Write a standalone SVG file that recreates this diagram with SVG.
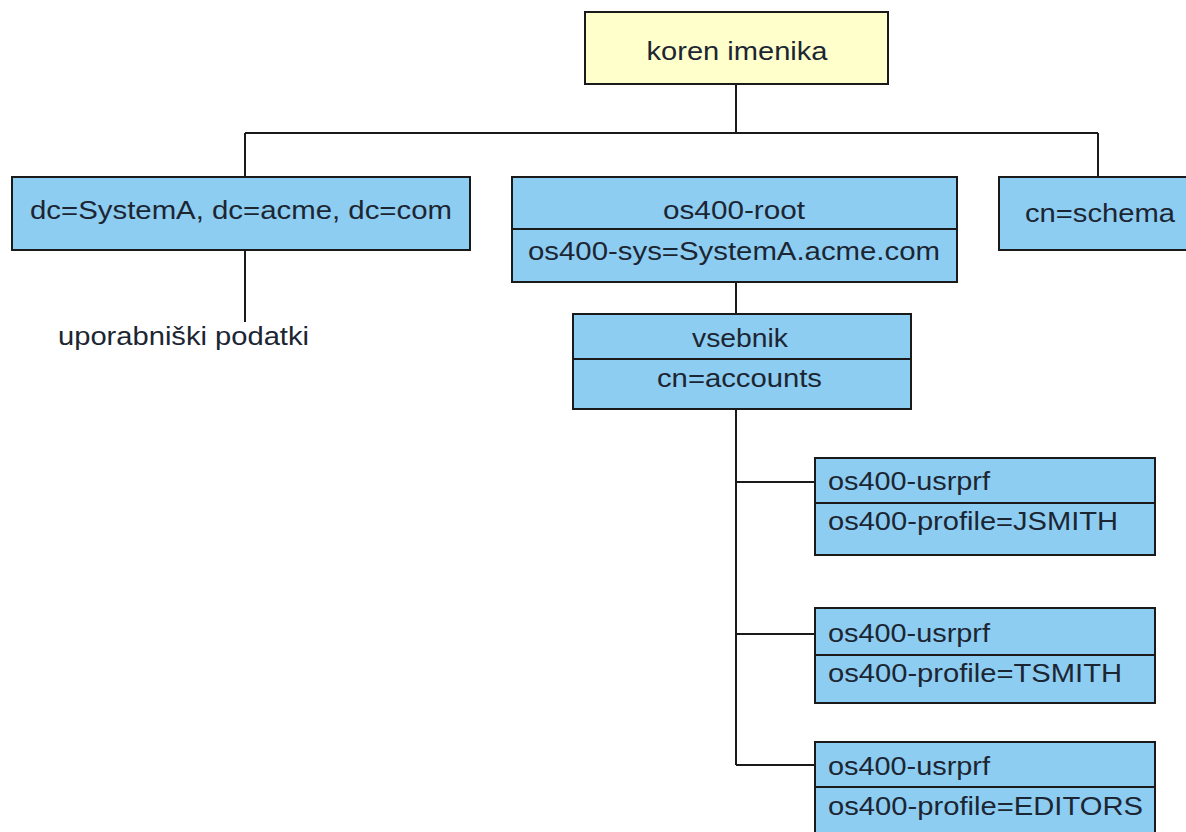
<svg xmlns="http://www.w3.org/2000/svg" width="1186" height="832" viewBox="0 0 1186 832">
<style>
.box{fill:#8ecdf2;stroke:#1a1a1a;stroke-width:2}
.root{fill:#ffffcc;stroke:#1a1a1a;stroke-width:2}
.div{stroke:#1a1a1a;stroke-width:2}
.t{font-family:"Liberation Sans",Arial,sans-serif;font-size:25px;fill:#1c2633}
.c{text-anchor:middle}
.conn{stroke:#1a1a1a;stroke-width:2;fill:none}
</style>
<rect width="1186" height="832" fill="#ffffff"/>
<g id="connectors">
<path class="conn" d="M736 84V133M245 133H1098M245 133V177M1098 133V177M245 250V322M736 282V314M736 409V765M736 482H815M736 634H815M736 765H815"/>
</g>
<g id="node-root">
<rect class="root" x="585" y="12" width="303" height="72"/>
<text class="t c" x="737" y="60" textLength="181" lengthAdjust="spacingAndGlyphs">koren imenika</text>
</g>
<g id="node-dc">
<rect class="box" x="12" y="177" width="458" height="73"/>
<text class="t" x="30" y="219" textLength="422" lengthAdjust="spacingAndGlyphs">dc=SystemA, dc=acme, dc=com</text>
</g>
<g id="node-userdata">
<text class="t" x="58" y="345" textLength="251" lengthAdjust="spacingAndGlyphs">uporabniški podatki</text>
</g>
<g id="node-os400root">
<rect class="box" x="512" y="177" width="445" height="105"/>
<line class="div" x1="512" y1="229" x2="957" y2="229"/>
<text class="t" x="663" y="219" textLength="142" lengthAdjust="spacingAndGlyphs">os400-root</text>
<text class="t" x="528" y="260" textLength="412" lengthAdjust="spacingAndGlyphs">os400-sys=SystemA.acme.com</text>
</g>
<g id="node-schema">
<rect class="box" x="999" y="177" width="200" height="73"/>
<text class="t" x="1025" y="222" textLength="150" lengthAdjust="spacingAndGlyphs">cn=schema</text>
</g>
<g id="node-vsebnik">
<rect class="box" x="573" y="314" width="338" height="95"/>
<line class="div" x1="573" y1="359" x2="911" y2="359"/>
<text class="t" x="692" y="347" textLength="96" lengthAdjust="spacingAndGlyphs">vsebnik</text>
<text class="t" x="657" y="387" textLength="165" lengthAdjust="spacingAndGlyphs">cn=accounts</text>
</g>
<g id="node-jsmith">
<rect class="box" x="815" y="458" width="340" height="97"/>
<line class="div" x1="815" y1="503" x2="1155" y2="503"/>
<text class="t" x="828" y="490" textLength="162" lengthAdjust="spacingAndGlyphs">os400-usrprf</text>
<text class="t" x="828" y="530" textLength="290" lengthAdjust="spacingAndGlyphs">os400-profile=JSMITH</text>
</g>
<g id="node-tsmith">
<rect class="box" x="815" y="608" width="340" height="95"/>
<line class="div" x1="815" y1="655" x2="1155" y2="655"/>
<text class="t" x="828" y="642" textLength="162" lengthAdjust="spacingAndGlyphs">os400-usrprf</text>
<text class="t" x="828" y="682" textLength="294" lengthAdjust="spacingAndGlyphs">os400-profile=TSMITH</text>
</g>
<g id="node-editors">
<rect class="box" x="815" y="742" width="340" height="100"/>
<line class="div" x1="815" y1="787" x2="1155" y2="787"/>
<text class="t" x="828" y="775" textLength="162" lengthAdjust="spacingAndGlyphs">os400-usrprf</text>
<text class="t" x="828" y="815" textLength="315" lengthAdjust="spacingAndGlyphs">os400-profile=EDITORS</text>
</g>
</svg>
